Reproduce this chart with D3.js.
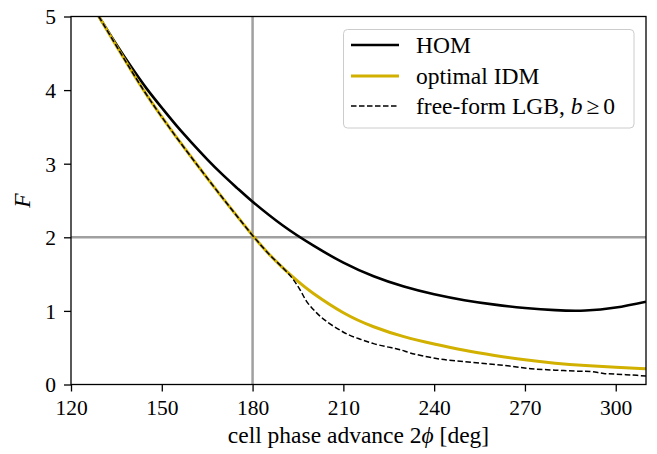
<!DOCTYPE html>
<html>
<head>
<meta charset="utf-8">
<script src="https://cdn.jsdelivr.net/npm/d3@7"></script>
<style>
  html, body { margin: 0; padding: 0; background: #fff; }
  svg { display: block; }
  text { font-family: "Liberation Serif", "Times New Roman", serif; fill: #000; }
</style>
</head>
<body>
<svg id="chart" width="657" height="454"></svg>
<script>
// Phase advance (deg) sample points and focusing factor F for each design
const homPhase = [129.2, 135, 140, 145, 150, 155, 160, 165, 170, 175, 180, 190, 200, 210, 220, 230, 240, 250, 260, 270, 280, 290, 300, 310];
const homF     = [5.00, 4.62, 4.31, 4.02, 3.76, 3.51, 3.28, 3.06, 2.855, 2.665, 2.484, 2.16, 1.89, 1.655, 1.47, 1.33, 1.225, 1.145, 1.085, 1.04, 1.01, 1.005, 1.045, 1.125];

const idmPhase = [129.2, 135, 140, 145, 150, 155, 160, 165, 170, 175, 180, 185, 190, 195, 200, 210, 220, 230, 240, 250, 260, 270, 280, 290, 300, 310];
const idmF     = [5.00, 4.60, 4.26, 3.935, 3.635, 3.35, 3.075, 2.805, 2.54, 2.28, 2.025, 1.79, 1.585, 1.40, 1.24, 0.975, 0.785, 0.65, 0.55, 0.465, 0.395, 0.335, 0.29, 0.258, 0.234, 0.215];

const lgbPhase = [129.2, 135, 140, 145, 150, 155, 160, 165, 170, 175, 180, 185, 190, 193, 195.5, 198, 201, 204, 208, 212, 216, 220, 224, 227, 229, 232, 236, 242, 250, 258, 265, 272, 280, 288, 292, 296, 300, 305, 310];
const lgbF     = [5.00, 4.60, 4.26, 3.935, 3.635, 3.35, 3.075, 2.805, 2.54, 2.28, 2.025, 1.79, 1.585, 1.45, 1.30, 1.12, 0.98, 0.87, 0.76, 0.67, 0.61, 0.555, 0.515, 0.49, 0.47, 0.43, 0.39, 0.345, 0.31, 0.28, 0.25, 0.215, 0.195, 0.18, 0.175, 0.15, 0.14, 0.13, 0.115];

const xTicks = [120, 150, 180, 210, 240, 270, 300];
const yTicks = [0, 1, 2, 3, 4, 5];
const refPhase = 180;
const refF = 2;

const seriesNames = ["HOM", "optimal IDM", "free-form LGB"];

const svg = d3.select("#chart");
const margin = { left: 71, right: 11, top: 16.5, bottom: 69.5 };
const W = 657, H = 454;
const x = d3.scaleLinear().domain([120, 310]).range([margin.left, W - margin.right]);
const y = d3.scaleLinear().domain([0, 5]).range([H - margin.bottom, margin.top]);

svg.append("defs").append("clipPath").attr("id", "plot-clip")
  .append("rect")
  .attr("x", x(120)).attr("y", y(5))
  .attr("width", x(310) - x(120)).attr("height", y(0) - y(5));

const plot = svg.append("g").attr("clip-path", "url(#plot-clip)");

const toPts = (xs, ys) => xs.map((v, i) => [v, ys[i]]);
const smoothLine = d3.line().x(d => x(d[0])).y(d => y(d[1])).curve(d3.curveNatural);
const roughLine = d3.line().x(d => x(d[0])).y(d => y(d[1])).curve(d3.curveCatmullRom.alpha(0.5));

// Reference lines at 180 deg and F = 2
plot.append("line")
  .attr("x1", x(refPhase)).attr("x2", x(refPhase))
  .attr("y1", y(0)).attr("y2", y(5))
  .attr("stroke", "#a0a0a0").attr("stroke-width", 2.5);
plot.append("line")
  .attr("x1", x(120)).attr("x2", x(310))
  .attr("y1", y(refF)).attr("y2", y(refF))
  .attr("stroke", "#a0a0a0").attr("stroke-width", 2.5);

const colors = { hom: "#000000", idm: "#d1b000", lgb: "#000000" };

plot.append("path").datum(toPts(homPhase, homF))
  .attr("d", smoothLine).attr("fill", "none")
  .attr("stroke", colors.hom).attr("stroke-width", 2.6);
plot.append("path").datum(toPts(idmPhase, idmF))
  .attr("d", smoothLine).attr("fill", "none")
  .attr("stroke", colors.idm).attr("stroke-width", 3);
plot.append("path").datum(toPts(lgbPhase, lgbF))
  .attr("d", roughLine).attr("fill", "none")
  .attr("stroke", colors.lgb).attr("stroke-width", 1.5)
  .attr("stroke-dasharray", "5.5,2.5");

// Frame
svg.append("rect")
  .attr("x", x(120)).attr("y", y(5))
  .attr("width", x(310) - x(120)).attr("height", y(0) - y(5))
  .attr("fill", "none").attr("stroke", "#000").attr("stroke-width", 1.3);

// Axes
const xAxis = d3.axisBottom(x).tickValues(xTicks).tickSize(7).tickPadding(8).tickFormat(d3.format("d"));
const yAxis = d3.axisLeft(y).tickValues(yTicks).tickSize(7).tickPadding(8).tickFormat(d3.format("d"));

const gx = svg.append("g").attr("transform", `translate(0,${y(0)})`).call(xAxis);
const gy = svg.append("g").attr("transform", `translate(${x(120)},0)`).call(yAxis);
[gx, gy].forEach(g => {
  g.select(".domain").remove();
  g.selectAll(".tick line").attr("stroke", "#000").attr("stroke-width", 1.3);
  g.selectAll(".tick text")
    .attr("font-family", "Liberation Serif, serif")
    .attr("font-size", 21.5).attr("fill", "#000");
});
gy.selectAll(".tick text").attr("dy", "0.34em");

// Axis titles
svg.append("text")
  .attr("x", (x(120) + x(310)) / 2).attr("y", 443)
  .attr("text-anchor", "middle").attr("font-size", 23.5)
  .html('cell phase advance 2<tspan font-style="italic">ϕ</tspan> [deg]');

svg.append("text")
  .attr("transform", `translate(30,${(y(0) + y(5)) / 2}) rotate(-90)`)
  .attr("text-anchor", "middle").attr("font-size", 23.5)
  .attr("font-style", "italic")
  .text("F");

// Legend
const lg = svg.append("g");
lg.append("rect")
  .attr("x", 343.5).attr("y", 29.5).attr("width", 290.5).attr("height", 98.5)
  .attr("rx", 4).attr("ry", 4)
  .attr("fill", "#fff").attr("fill-opacity", 0.8)
  .attr("stroke", "#cccccc").attr("stroke-width", 1);

const legendRows = [
  { name: seriesNames[0], color: colors.hom, width: 2.6, dash: null, y: 45 },
  { name: seriesNames[1], color: colors.idm, width: 3, dash: null, y: 76 },
  { name: seriesNames[2], color: colors.lgb, width: 1.5, dash: "5.5,2.5", y: 106 }
];
legendRows.forEach((r, i) => {
  lg.append("line")
    .attr("x1", 351).attr("x2", 399).attr("y1", r.y).attr("y2", r.y)
    .attr("stroke", r.color).attr("stroke-width", r.width)
    .attr("stroke-dasharray", r.dash);
  const t = lg.append("text")
    .attr("x", 416).attr("y", r.y).attr("dy", "0.34em")
    .attr("font-size", 23.5);
  if (i === 2) {
    t.html(r.name + ', <tspan font-style="italic">b</tspan><tspan dx="4">≥</tspan><tspan dx="4">0</tspan>');
  } else {
    t.text(r.name);
  }
});
</script>
</body>
</html>
